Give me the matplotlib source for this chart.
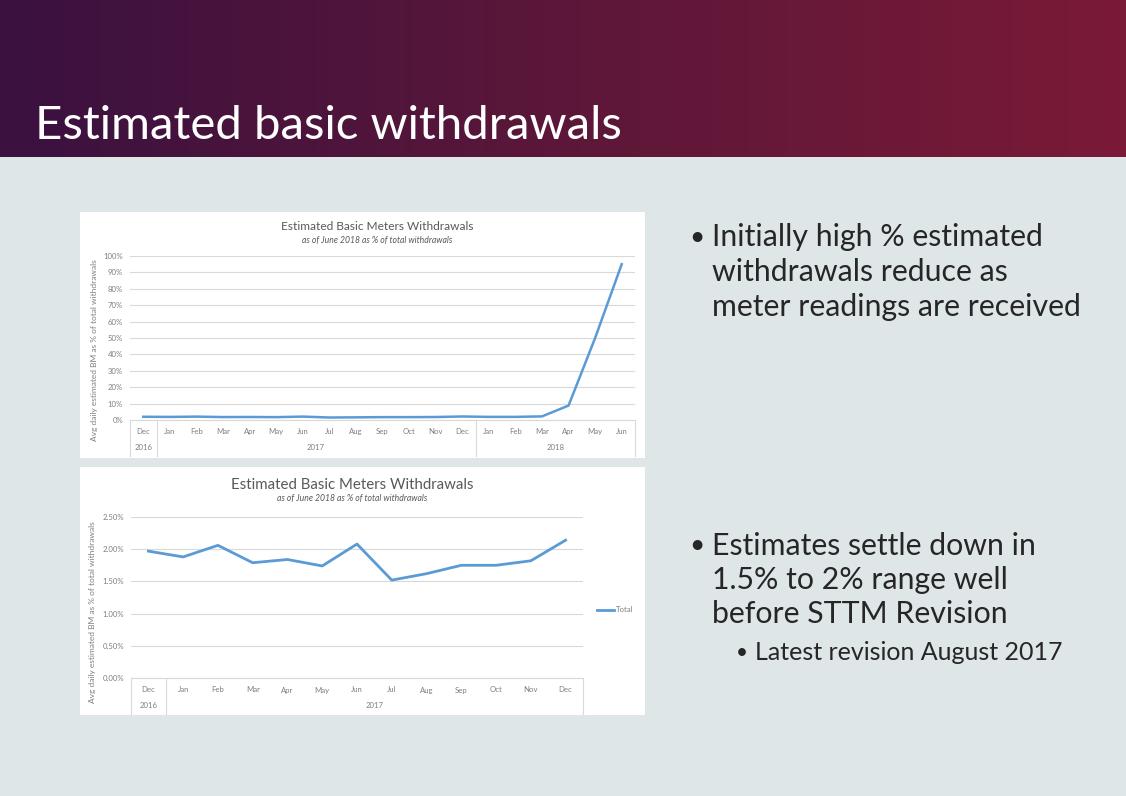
import numpy as np
import matplotlib
matplotlib.use("Agg")
import matplotlib.pyplot as plt
from matplotlib.patches import Rectangle
from matplotlib.ticker import FuncFormatter
from matplotlib.colors import LinearSegmentedColormap

W, H = 1126, 796
plt.rcParams['font.family'] = ['Lato', 'DejaVu Sans']

# data
months_long = ["Dec", "Jan", "Feb", "Mar", "Apr", "May", "Jun", "Jul", "Aug", "Sep", "Oct", "Nov", "Dec",
               "Jan", "Feb", "Mar", "Apr", "May", "Jun"]
years_long = [("2016", 0, 0), ("2017", 1, 12), ("2018", 13, 18)]
share_long = [0.0197, 0.0188, 0.0206, 0.0179, 0.0184, 0.0174, 0.0208, 0.0152, 0.0162, 0.0175, 0.0175,
              0.0182, 0.0214, 0.019, 0.019, 0.022, 0.088, 0.50, 0.95]

months_short = ["Dec", "Jan", "Feb", "Mar", "Apr", "May", "Jun", "Jul", "Aug", "Sep", "Oct", "Nov", "Dec"]
years_short = [("2016", 0, 0), ("2017", 1, 12)]
share_short = [0.0197, 0.0188, 0.0206, 0.0179, 0.0184, 0.0174, 0.0208, 0.0152, 0.0162, 0.0175, 0.0175,
               0.0182, 0.0214]

title_txt = "Estimated basic withdrawals"
chart_title = "Estimated Basic Meters Withdrawals"
chart_sub = "as of June 2018 as % of total withdrawals"
ylab = "Avg daily estimated BM as % of total withdrawals"

blue = "#5b9bd5"
grid = "#d9d9d9"
txtgrey = "#7f7f7f"
tick_fs = 5.6


def fx(x):
    return x / W


def fy(y):
    return 1 - y / H


def px_axes(x0, y0, x1, y1):
    return fig.add_axes([fx(x0), fy(y1), (x1 - x0) / W, (y1 - y0) / H])


fig = plt.figure(figsize=(W / 100, H / 100), dpi=100)
fig.patch.set_facecolor("#dfe6e8")

# header band with gradient
hax = px_axes(0, 0, W, 157)
cmap = LinearSegmentedColormap.from_list("hdr", ["#3a1140", "#5c1739", "#7a1a37"])
hax.imshow(np.linspace(0, 1, 256)[None, :], aspect="auto", cmap=cmap, extent=[0, 1, 0, 1])
hax.set_axis_off()
fig.text(fx(35), fy(139), title_txt, color="white", fontsize=34, va="baseline", ha="left")

# white panels
for (x0, y0, x1, y1) in [(80, 212, 645, 458), (80, 467, 645, 715)]:
    fig.add_artist(Rectangle((fx(x0), fy(y1)), (x1 - x0) / W, (y1 - y0) / H,
                             transform=fig.transFigure, facecolor="white", edgecolor="none", zorder=0))


def draw_chart(box, months, years, vals, ymax, ystep, fmt, title_fs, title_y, sub_y, lw,
               lab_x, lab_y, row1, row2, bottom):
    x0, y0, x1, y1 = box
    ax = px_axes(x0, y0, x1, y1)
    ax.set_facecolor("none")
    n = len(months)
    xs = np.arange(n)
    ax.plot(xs, vals, color=blue, lw=lw, solid_joinstyle="round", zorder=3)
    ax.set_xlim(-0.5, n - 0.5)
    ax.set_ylim(0, ymax)
    ax.set_yticks(np.arange(0, ymax + ystep / 2, ystep))
    ax.yaxis.set_major_formatter(FuncFormatter(fmt))
    ax.tick_params(axis="y", length=0, labelsize=tick_fs, labelcolor=txtgrey, pad=5)
    ax.set_xticks([])
    ax.grid(axis="y", color=grid, lw=0.8)
    ax.set_axisbelow(True)
    for s in ["top", "right", "left"]:
        ax.spines[s].set_visible(False)
    ax.spines["bottom"].set_color(grid)
    ax.spines["bottom"].set_linewidth(0.8)

    # two level category axis
    axis_h = y1 - y0
    for i, m in enumerate(months):
        ax.text(i, -(row1 - y1) / axis_h, m, transform=ax.get_xaxis_transform(),
                ha="center", va="center", fontsize=tick_fs, color=txtgrey)
    bounds = set()
    for yr, a, b in years:
        ax.text((a + b) / 2, -(row2 - y1) / axis_h, yr, transform=ax.get_xaxis_transform(),
                ha="center", va="center", fontsize=tick_fs, color=txtgrey)
        bounds.add(a - 0.5)
        bounds.add(b + 0.5)
    for bx in sorted(bounds):
        ax.plot([bx, bx], [0, -(bottom - y1) / axis_h], transform=ax.get_xaxis_transform(),
                color=grid, lw=0.8, clip_on=False)

    cx = (x0 + x1) / 2 - 5
    fig.text(fx(cx), fy(title_y), chart_title, ha="center", va="center",
             fontsize=title_fs, color="#595959")
    fig.text(fx(cx), fy(sub_y), chart_sub, ha="center", va="center",
             fontsize=6.2, color="#595959", style="italic")
    fig.text(fx(lab_x), fy(lab_y), ylab, ha="center", va="center", rotation=90,
             fontsize=6.0, color=txtgrey)
    return ax


draw_chart((130, 256, 635, 420), months_long, years_long, share_long, 1.0, 0.1,
           lambda v, p: f"{v * 100:.0f}%", 8.6, 227, 240, 1.8, 95, 350, 432, 448, 456)

ax2 = draw_chart((131, 517, 583, 678), months_short, years_short, share_short, 0.025, 0.005,
                 lambda v, p: f"{v * 100:.2f}%", 10.8, 485, 499, 2.0, 93, 612, 690, 706, 714)
ax2.plot([], [], color=blue, lw=2.0, label="Total")
ax2.legend(loc="center left", bbox_to_anchor=(fx(597), fy(610)), bbox_transform=fig.transFigure,
           frameon=False, fontsize=tick_fs, handlelength=2.2, handletextpad=0.2, labelcolor=txtgrey,
           borderpad=0, borderaxespad=0)

# bullets
btxt = "#262626"
bul1 = ["Initially high % estimated", "withdrawals reduce as", "meter readings are received"]
bul2 = ["Estimates settle down in", "1.5% to 2% range well", "before STTM Revision"]
fig.text(fx(689), fy(237), "•", fontsize=19, color=btxt, va="center")
for i, line in enumerate(bul1):
    fig.text(fx(712), fy(237 + 35 * i), line, fontsize=21.8, color=btxt, va="center")
fig.text(fx(689), fy(546), "•", fontsize=19, color=btxt, va="center")
for i, line in enumerate(bul2):
    fig.text(fx(712), fy(546 + 34 * i), line, fontsize=21.8, color=btxt, va="center")
fig.text(fx(736), fy(653), "•", fontsize=15, color=btxt, va="center")
fig.text(fx(755), fy(653), "Latest revision August 2017", fontsize=18, color=btxt, va="center")

fig.savefig("out.png", dpi=100)
